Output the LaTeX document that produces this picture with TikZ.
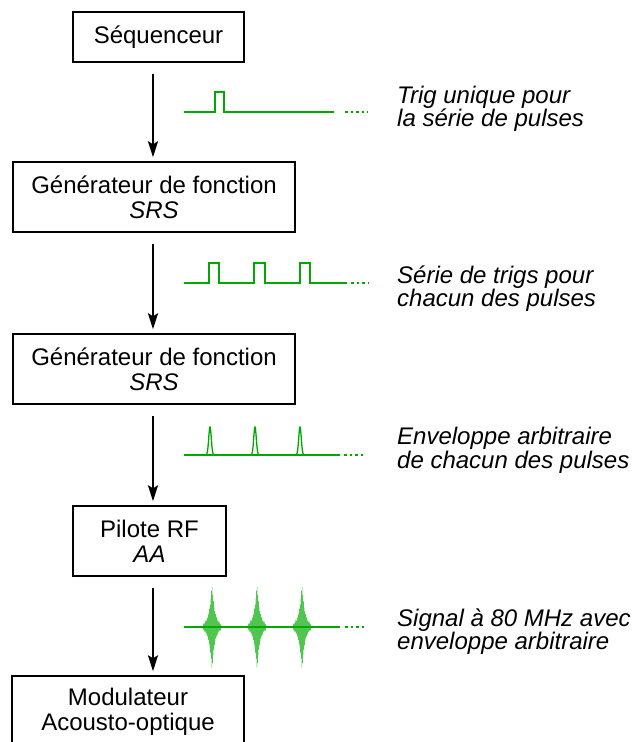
\documentclass[tikz,border=0pt]{standalone}
\usepackage{fontspec}
\setmainfont{Liberation Sans}
\usetikzlibrary{arrows.meta}
\definecolor{sig}{RGB}{0,168,0}
\definecolor{sigl}{RGB}{80,198,80}
\tikzset{
  box/.style={draw, line width=1.4pt, inner sep=0pt, align=center,
    font=\fontsize{24}{25}\selectfont},
  lbl/.style={anchor=west, inner sep=0pt, align=left,
    font=\fontsize{24}{23.5}\selectfont\itshape},
  arr/.style={line width=1.9pt, -{Stealth[length=16pt,width=10pt,inset=3pt]},
    shorten <=11pt, shorten >=4pt},
  sigline/.style={sig, line width=1.8pt},
  sigdots/.style={sig, line width=1.8pt, dash pattern=on 2.5pt off 3pt},
  burst/.style={sigl, line width=0.5pt}
}
\begin{document}
\begin{tikzpicture}[x=1pt, y=-1pt]
\useasboundingbox (0,0) rectangle (634,742);
\clip (0,0) rectangle (634,742);

% boxes
\node[box, minimum width=171pt, minimum height=50pt] (b1) at (158.5,37) {Séquenceur};
\node[box, minimum width=282pt, minimum height=70pt] (b2) at (154,197) {Générateur de fonction\\\textit{SRS}};
\node[box, minimum width=282pt, minimum height=70pt] (b3) at (154,369) {Générateur de fonction\\\textit{SRS}};
\node[box, minimum width=153pt, minimum height=70pt] (b4) at (149.5,541) {Pilote RF\\\textit{AA}};
\node[box, minimum width=232pt, minimum height=72pt] (b5) at (128,712) {Modulateur\\Acousto-optique};

% arrows
\coordinate (ax) at (153,0);
\draw[arr] (b1.south -| ax) -- (b2.north -| ax);
\draw[arr] (b2.south -| ax) -- (b3.north -| ax);
\draw[arr] (b3.south -| ax) -- (b4.north -| ax);
\draw[arr] (b4.south -| ax) -- (b5.north -| ax);

% labels
\node[lbl] (t1) at (397,109) {Trig unique pour\\la série de pulses};
\node[lbl] (t2) at (397,288.5) {Série de trigs pour\\chacun des pulses};
\node[lbl] (t3) at (397,450.5) {Enveloppe arbitraire\\de chacun des pulses};
\node[lbl] (t4) at (397,631.5) {Signal à 80 MHz avec\\enveloppe arbitraire};

% signal 1
\draw[sigline] (184,112) -- (215,112) -- (215,92) -- (224,92) -- (224,112) -- (334,112);
\draw[sigdots] (345,112) -- (368,112);

% signal 2
\draw[sigline] (184,283) -- (209,283) -- (209,263) -- (219,263) -- (219,283)
  -- (254,283) -- (254,263) -- (265,263) -- (265,283)
  -- (300,283) -- (300,263) -- (310,263) -- (310,283) -- (347,283);
\draw[sigdots] (351,283) -- (368,283);

% signal 3
\draw[sigline] (184,455) -- (340,455);
\foreach \c in {210,255,300}{
  \draw[sig, line width=1.3pt] plot[domain=-6:6, samples=80, smooth]
    ({\c+\x}, {455-28*exp(-(\x/1.8)*(\x/1.8))});
}
\draw[sigdots] (344,455) -- (364,455);

% signal 4
\foreach \c in {212,257,302}{
  \draw[burst] plot[domain=-9:9, samples=361]
    ({\c+\x}, {627-43*exp(-abs(\x)/2.9)*sin(\x*540)});
}
\draw[sigline] (184,627) -- (340,627);
\draw[sigdots] (345,627) -- (364,627);
\end{tikzpicture}
\end{document}
